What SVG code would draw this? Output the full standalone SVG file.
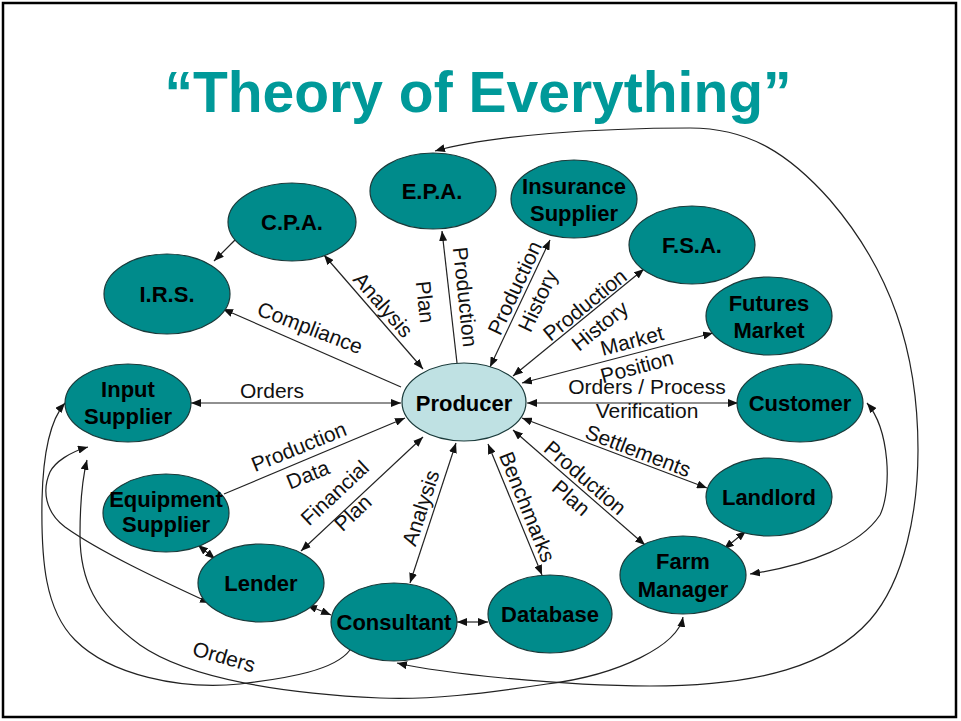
<svg xmlns="http://www.w3.org/2000/svg" width="961" height="721" viewBox="0 0 961 721">
<defs>
<style>
.n{fill:#008b8b;stroke:#1a3a3a;stroke-width:1.2}
.p{fill:#bfe1e3;stroke:#1a3a3a;stroke-width:1.2}
.t{font-family:"Liberation Sans",Arial,sans-serif;font-weight:bold;font-size:22px;fill:#000;text-anchor:middle}
.l{font-family:"Liberation Sans",Arial,sans-serif;font-size:21px;fill:#111;text-anchor:middle}
.c{fill:none;stroke:#222;stroke-width:1.2}
</style>
<marker id="a" viewBox="0 0 10 8" refX="10" refY="4" markerWidth="10" markerHeight="8" markerUnits="userSpaceOnUse" orient="auto-start-reverse">
<path d="M0,0 L10,4 L0,8 z" fill="#111"/>
</marker>
</defs>
<rect x="0" y="0" width="961" height="721" fill="#fff"/>
<rect x="3" y="3" width="953" height="714" fill="none" stroke="#000" stroke-width="2.5"/>
<text x="478" y="112" font-family="'Liberation Sans',Arial,sans-serif" font-weight="bold" font-size="57" fill="#009999" text-anchor="middle">“Theory of Everything”</text>

<g id="connectors">
<path class="c" d="M401,387 L223,309" marker-end="url(#a)"/>
<path class="c" d="M423,369 L324,255" marker-start="url(#a)" marker-end="url(#a)"/>
<path class="c" d="M457,363 L442,231" marker-end="url(#a)"/>
<path class="c" d="M490,367 L550,240" marker-start="url(#a)" marker-end="url(#a)"/>
<path class="c" d="M513,376 L644,269" marker-start="url(#a)" marker-end="url(#a)"/>
<path class="c" d="M522,383 L713,333" marker-start="url(#a)" marker-end="url(#a)"/>
<path class="c" d="M527,403 L738,403" marker-start="url(#a)" marker-end="url(#a)"/>
<path class="c" d="M522,418 L707,488" marker-start="url(#a)" marker-end="url(#a)"/>
<path class="c" d="M513,430 L645,545" marker-start="url(#a)" marker-end="url(#a)"/>
<path class="c" d="M488,444 L542,575" marker-start="url(#a)" marker-end="url(#a)"/>
<path class="c" d="M456,443 L410,583" marker-start="url(#a)" marker-end="url(#a)"/>
<path class="c" d="M423,437 L301,551" marker-start="url(#a)" marker-end="url(#a)"/>
<path class="c" d="M224,494 L405,418" marker-end="url(#a)"/>
<path class="c" d="M191,403 L401,403" marker-start="url(#a)" marker-end="url(#a)"/>
<path class="c" d="M198,545 L215,559" marker-start="url(#a)" marker-end="url(#a)"/>
<path class="c" d="M307,605 L331,615" marker-start="url(#a)" marker-end="url(#a)"/>
<path class="c" d="M457,622 L488,622" marker-start="url(#a)" marker-end="url(#a)"/>
<path class="c" d="M724,549 L746,531" marker-start="url(#a)" marker-end="url(#a)"/>
<path class="c" d="M235,240 L214,261" marker-end="url(#a)"/>
<path class="c" d="M397,663 C440,673 560,686 650,686 C760,686 830,665 870,620 C905,580 918,510 918,450 C918,350 890,270 830,200 C790,155 750,128 690,128 C600,128 490,135 435,151" marker-start="url(#a)" marker-end="url(#a)"/>
<path class="c" d="M750,574 C810,565 860,545 880,515 C892,490 890,430 867,403" marker-start="url(#a)" marker-end="url(#a)"/>
<path class="c" d="M683,617 C678,645 620,675 547,684 C480,694 430,700 380,698 C290,694 190,680 140,645 C95,612 80,580 80,535 C80,500 82,480 87,460" marker-start="url(#a)" marker-end="url(#a)"/>
<path class="c" d="M350,650 C335,670 290,678 240,684 C180,690 110,675 75,640 C45,610 41,560 42,500 C43,455 50,420 65,403" marker-end="url(#a)"/>
<path class="c" d="M210,603 C160,580 100,552 65,527 C45,512 42,490 50,472 C55,462 70,452 88,447" marker-start="url(#a)" marker-end="url(#a)"/>

<text class="l" transform="translate(310,328) rotate(21)" y="7">Compliance</text>
<text class="l" transform="translate(383,305) rotate(49)" y="7">Analysis</text>
<text class="l" transform="translate(465,297) rotate(84)" y="7">Production</text>
<text class="l" transform="translate(425,302) rotate(84)" y="7">Plan</text>
<text class="l" transform="translate(515,288) rotate(-65)" y="7">Production</text>
<text class="l" transform="translate(538,301) rotate(-65)" y="7">History</text>
<text class="l" transform="translate(585,305) rotate(-39)" y="7">Production</text>
<text class="l" transform="translate(600,326) rotate(-39)" y="7">History</text>
<text class="l" transform="translate(632,341) rotate(-15)" y="7">Market</text>
<text class="l" transform="translate(637,367) rotate(-15)" y="7">Position</text>
<text class="l" x="647" y="394">Orders / Process</text>
<text class="l" x="647" y="418">Verification</text>
<text class="l" transform="translate(638,451) rotate(21)" y="7">Settlements</text>
<text class="l" transform="translate(585,478) rotate(41)" y="7">Production</text>
<text class="l" transform="translate(571,498) rotate(41)" y="7">Plan</text>
<text class="l" transform="translate(527,507) rotate(68)" y="7">Benchmarks</text>
<text class="l" transform="translate(421,508) rotate(-72)" y="7">Analysis</text>
<text class="l" transform="translate(335,493) rotate(-43)" y="7">Financial</text>
<text class="l" transform="translate(353,513) rotate(-43)" y="7">Plan</text>
<text class="l" transform="translate(299,447) rotate(-22)" y="7">Production</text>
<text class="l" transform="translate(308,475) rotate(-22)" y="7">Data</text>
<text class="l" x="272" y="398">Orders</text>
<text class="l" transform="translate(224,657) rotate(16)" y="7">Orders</text>
</g>

<g id="epa"><ellipse class="n" cx="433" cy="191" rx="63" ry="38"/><text class="t" x="432" y="199">E.P.A.</text></g>
<g id="cpa"><ellipse class="n" cx="292" cy="222" rx="64" ry="39"/><text class="t" x="292" y="230">C.P.A.</text></g>
<g id="insurance"><ellipse class="n" cx="574" cy="199" rx="63" ry="39"/><text class="t" x="574" y="194">Insurance</text><text class="t" x="574" y="221">Supplier</text></g>
<g id="irs"><ellipse class="n" cx="167" cy="294" rx="63" ry="40"/><text class="t" x="167" y="302">I.R.S.</text></g>
<g id="fsa"><ellipse class="n" cx="692" cy="245" rx="63" ry="39"/><text class="t" x="692" y="253">F.S.A.</text></g>
<g id="futures"><ellipse class="n" cx="769" cy="316" rx="63" ry="39"/><text class="t" x="769" y="311">Futures</text><text class="t" x="769" y="338">Market</text></g>
<g id="customer"><ellipse class="n" cx="800" cy="403" rx="63" ry="39"/><text class="t" x="800" y="411">Customer</text></g>
<g id="producer"><ellipse class="p" cx="464" cy="402" rx="62" ry="39"/><text class="t" x="464" y="411">Producer</text></g>
<g id="input"><ellipse class="n" cx="128" cy="403" rx="63" ry="39"/><text class="t" x="128" y="397">Input</text><text class="t" x="128" y="424">Supplier</text></g>
<g id="equipment"><ellipse class="n" cx="166" cy="513" rx="63" ry="39"/><text class="t" x="166" y="507">Equipment</text><text class="t" x="166" y="532">Supplier</text></g>
<g id="lender"><ellipse class="n" cx="261" cy="583" rx="63" ry="39"/><text class="t" x="261" y="591">Lender</text></g>
<g id="consultant"><ellipse class="n" cx="394" cy="622" rx="63" ry="39"/><text class="t" x="394" y="630">Consultant</text></g>
<g id="database"><ellipse class="n" cx="550" cy="614" rx="62" ry="39"/><text class="t" x="550" y="622">Database</text></g>
<g id="farm"><ellipse class="n" cx="683" cy="575" rx="63" ry="39"/><text class="t" x="683" y="569">Farm</text><text class="t" x="683" y="597">Manager</text></g>
<g id="landlord"><ellipse class="n" cx="769" cy="497" rx="63" ry="39"/><text class="t" x="769" y="505">Landlord</text></g>
</svg>
